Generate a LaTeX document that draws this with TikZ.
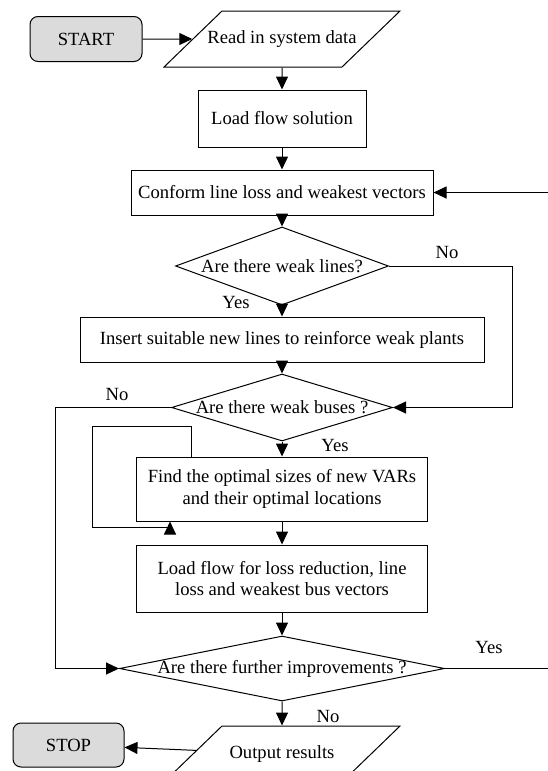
\documentclass[tikz,border=0pt]{standalone}
\usepackage{fontspec}
\setmainfont{Liberation Serif}
\usetikzlibrary{arrows.meta, positioning, shapes.geometric}

\begin{document}
\begin{tikzpicture}[
  x=1pt, y=1pt,
  font=\fontsize{9.3}{10.8}\selectfont,
  line width=0.5pt,
  box/.style={draw, align=center, inner sep=0pt},
  term/.style={box, rounded corners=4pt, fill=black!14, minimum width=56pt,
               minimum height=22.5pt},
  inout/.style={box, trapezium, trapezium left angle=44, trapezium right angle=136,
                trapezium stretches body=true, text height=6.5pt, text depth=2pt,
                inner ysep=9.75pt, inner xsep=-7.5pt, minimum width=118pt},
  decide/.style={box, diamond, inner xsep=-3pt},
  conn/.style={-{Triangle[length=6.5pt, width=6pt]}},
  lbl/.style={inner sep=0pt}
]
\useasboundingbox (0,0) rectangle (273.5,-385.5);

% main column
\node[inout] (read) at (141,-19.5) {Read in system data};
\node[box, minimum width=84pt, minimum height=28.5pt, below=11pt of read] (load) {Load flow solution};
\node[box, minimum width=151pt, minimum height=22.5pt, below=11pt of load] (conform)
  {Conform line loss and weakest vectors};
\node[decide, aspect=2.73, minimum width=106.5pt, minimum height=39pt, below=5.5pt of conform] (d1)
  {Are there weak lines?};
\node[box, minimum width=202pt, minimum height=22.5pt, below=5.5pt of d1] (insert)
  {Insert suitable new lines to reinforce weak plants};
\node[decide, aspect=3.3, minimum width=110.5pt, minimum height=33.5pt, below=5.5pt of insert] (d2)
  {Are there weak buses ?};
\node[box, minimum width=145.5pt, minimum height=32pt, below=7.5pt of d2] (find)
  {Find the optimal sizes of new VARs\\and their optimal locations};
\node[box, minimum width=145.5pt, minimum height=33.5pt, below=11.5pt of find] (load2)
  {Load flow for loss reduction, line\\loss and weakest bus vectors};
\node[decide, aspect=5, minimum width=162.5pt, minimum height=32.5pt, below=11.5pt of load2] (d3)
  {Are there further improvements ?};
\node[inout, below=12pt of d3] (output) {Output results};

\node[term] (start) at (43,-19.5) {START};
\node[term, minimum width=55.5pt, minimum height=22pt] (stop) at (34.25,-372.5) {STOP};

\coordinate (sideR) at (256,0);
\coordinate (sideL) at (27.5,0);
\coordinate (edge) at (274,0);
\coordinate (loopA) at (46,-213);
\coordinate (loopB) at (85,-263.5);

\draw[conn] (start) -- (read);
\draw[conn] (read) -- (load);
\draw[conn] (load) -- (conform);
\draw[conn] (conform) -- (d1);
\draw[conn] (d1) -- (insert);
\draw[conn] (insert) -- (d2);
\draw[conn] (d2) -- (find);
\draw[conn] (find) -- (load2);
\draw[conn] (load2) -- (d3);
\draw[conn] (d3) -- (output);
\draw[conn] (output) -- (stop);

\draw[conn] (d1.east) -- (d1.east -| sideR) |- (d2.east);
\draw[conn] (d2.west) -- (d2.west -| sideL) |- (d3.west);
\draw[conn] ([xshift=27.75pt]find.north west) |- (loopA) |- (loopB) -- (loopB |- find.south);
\draw (d3.east) -- (d3.east -| edge);
\draw[conn] (conform.east -| edge) -- (conform.east);

% branch labels
\node[lbl] (yes1) at ([xshift=-23pt, yshift=1.5pt]d1.south) {Yes};
\node[lbl] (no1) at ([xshift=29pt, yshift=7pt]d1.east) {No};
\node[lbl] (no2) at ([xshift=-27pt, yshift=6.75pt]d2.west) {No};
\node[lbl] (yes2) at ([xshift=26.5pt, yshift=-2pt]d2.south) {Yes};
\node[lbl] (yes3) at ([xshift=22pt, yshift=10.75pt]d3.east) {Yes};
\node[lbl] (no3) at ([xshift=23pt, yshift=-7.5pt]d3.south) {No};
\end{tikzpicture}
\end{document}
